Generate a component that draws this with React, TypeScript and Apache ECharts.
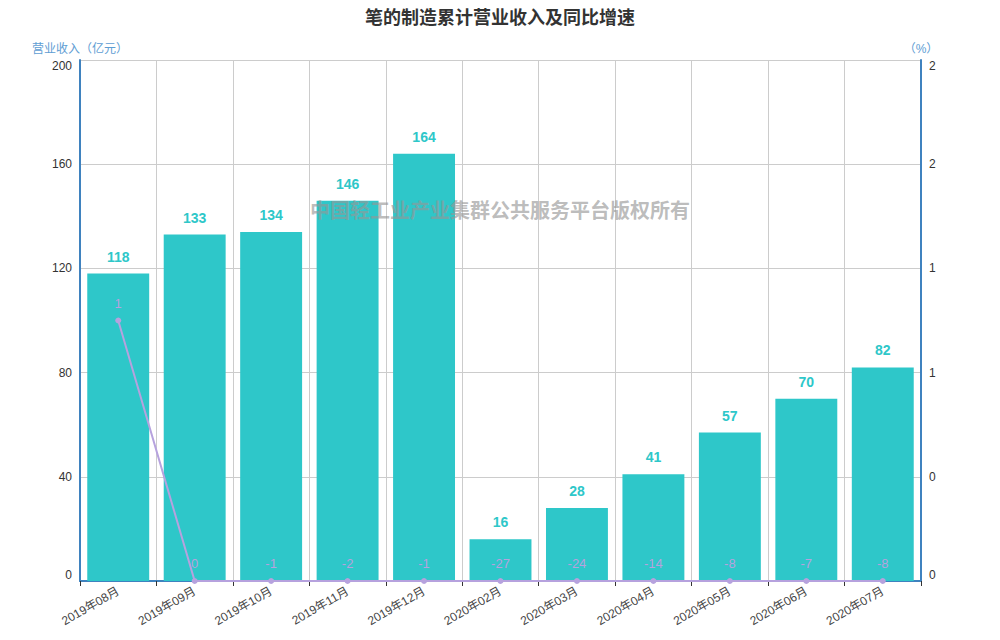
import React, { useEffect, useRef } from "react";
import * as echarts from "echarts";

const title = "笔的制造累计营业收入及同比增速";
const watermark = "中国轻工业产业集群公共服务平台版权所有";
const categories = [
  "2019年08月",
  "2019年09月",
  "2019年10月",
  "2019年11月",
  "2019年12月",
  "2020年02月",
  "2020年03月",
  "2020年04月",
  "2020年05月",
  "2020年06月",
  "2020年07月",
];
const revenue = [118, 133, 134, 146, 164, 16, 28, 41, 57, 70, 82];
const growth = [1, 0, -1, -2, -1, -27, -24, -14, -8, -7, -8];
const leftAxis = { name: "营业收入（亿元）", min: 0, max: 200, interval: 40 };
const rightAxis = { name: "（%）", min: 0, max: 2, interval: 0.4 };

const BAR_COLOR = "#2ec7c9";
const LINE_COLOR = "#b6a2de";
const AXIS_COLOR = "#3f82bf";
const NAME_COLOR = "#5e9dd3";

export default function App() {
  const ref = useRef<HTMLDivElement>(null);
  useEffect(() => {
    if (!ref.current) return;
    const chart = echarts.init(ref.current, null, { renderer: "svg" });
    const lineData = growth.map((v) => Math.max(v, rightAxis.min));
    chart.setOption({
      animation: false,
      backgroundColor: "#fff",
      textStyle: { fontFamily: "Arial, 'Liberation Sans', 'Noto Sans CJK SC', sans-serif" },
      title: {
        text: title,
        left: "center",
        top: 4,
        textStyle: { fontSize: 18, fontWeight: "bold", color: "#333" },
      },
      grid: { left: 80, right: 79, top: 60, bottom: 59, containLabel: false },
      graphic: [
        {
          type: "text",
          left: "center",
          top: 199,
          z: 100,
          style: {
            text: watermark,
            fill: "rgba(150,150,150,0.65)",
            font: "bold 20px 'Noto Sans CJK SC', sans-serif",
          },
        },
      ],
      xAxis: {
        type: "category",
        data: categories,
        axisLine: { lineStyle: { color: AXIS_COLOR, width: 2 } },
        axisTick: { show: true, lineStyle: { color: "#333" } },
        axisLabel: { rotate: 30, fontSize: 12, color: "#444", margin: 9 },
        splitLine: { show: true, lineStyle: { color: "#ccc" } },
      },
      yAxis: [
        {
          type: "value",
          name: leftAxis.name,
          min: leftAxis.min,
          max: leftAxis.max,
          interval: leftAxis.interval,
          nameGap: 5,
          nameTextStyle: { color: NAME_COLOR, fontSize: 12 },
          axisLine: { show: true, lineStyle: { color: AXIS_COLOR, width: 2 } },
          axisTick: { show: false },
          axisLabel: {
            color: "#333",
            fontSize: 12,
            verticalAlignMaxLabel: "top",
            verticalAlignMinLabel: "bottom",
          },
          splitLine: { show: true, lineStyle: { color: "#ccc" } },
        },
        {
          type: "value",
          name: rightAxis.name,
          min: rightAxis.min,
          max: rightAxis.max,
          interval: rightAxis.interval,
          nameGap: 5,
          nameTextStyle: { color: NAME_COLOR, fontSize: 12 },
          axisLine: { show: true, lineStyle: { color: AXIS_COLOR, width: 2 } },
          axisTick: { show: false },
          axisLabel: {
            color: "#333",
            fontSize: 12,
            formatter: (v: number) => String(Math.round(v)),
            verticalAlignMaxLabel: "top",
            verticalAlignMinLabel: "bottom",
          },
          splitLine: { show: false },
        },
      ],
      series: [
        {
          type: "bar",
          yAxisIndex: 0,
          data: revenue,
          barWidth: "81%",
          itemStyle: { color: BAR_COLOR },
          label: {
            show: true,
            position: "top",
            distance: 10,
            color: BAR_COLOR,
            fontSize: 14,
            fontWeight: "bold",
          },
        },
        {
          type: "line",
          yAxisIndex: 1,
          data: lineData,
          symbol: "circle",
          symbolSize: 6,
          lineStyle: { color: LINE_COLOR, width: 2 },
          itemStyle: { color: LINE_COLOR },
          z: 5,
          label: {
            show: true,
            position: "top",
            distance: 8,
            color: LINE_COLOR,
            fontSize: 13,
            formatter: (p: any) => String(growth[p.dataIndex]),
          },
        },
      ],
    });
    return () => chart.dispose();
  }, []);
  return <div ref={ref} style={{ width: 1000, height: 640, margin: -8 }} />;
}
